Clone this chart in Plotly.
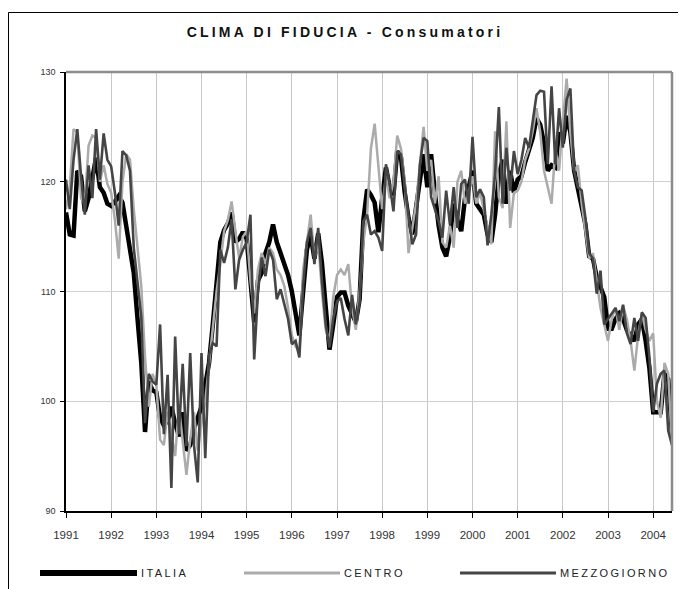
import plotly.graph_objects as go

# ---------------- data (monthly, Jan 1991 - Jun 2004) ----------------
year_labels = [str(y) for y in range(1991, 2005)]
month_index = list(range(162))

italia = [
    117.2, 115.2, 115.1, 121.0, 120.5, 117.3, 118.5, 120.3, 122.2, 119.5, 119.0, 118.0,  # 1991
    117.8, 118.2, 118.7, 118.1, 116.0, 113.8, 111.7, 107.5, 103.5, 97.2, 101.8, 101.0,   # 1992
    100.8, 98.5, 97.8, 98.2, 99.5, 98.0, 96.8, 99.0, 95.5, 96.0, 97.5, 98.5,             # 1993
    99.5, 101.5, 103.5, 107.0, 111.0, 114.5, 115.6, 116.2, 117.2, 114.5, 114.8, 115.4,   # 1994
    114.8, 110.5, 107.2, 111.0, 111.7, 113.5, 114.5, 116.1, 114.5, 113.5, 112.6, 111.5,  # 1995
    110.0, 108.0, 106.0, 110.0, 113.8, 115.1, 113.0, 115.3, 112.6, 108.6, 104.7, 107.0,  # 1996
    109.5, 109.9, 109.9, 108.7, 108.0, 107.2, 109.3, 116.5, 119.3, 118.8, 118.1, 115.4,  # 1997
    118.5, 121.3, 119.5, 118.8, 122.8, 122.2, 119.0, 116.7, 115.2, 117.9, 120.5, 122.5,  # 1998
    119.5, 122.5, 119.0, 116.0, 114.0, 113.2, 115.0, 118.0, 116.5, 115.5, 118.5, 119.5,  # 1999
    121.0, 118.0, 117.5, 117.0, 115.2, 114.5, 117.0, 120.5, 122.0, 118.0, 121.0, 119.0,  # 2000
    120.2, 120.5, 121.8, 122.8, 124.0, 125.8, 125.2, 123.5, 121.0, 121.5, 121.3, 124.5,  # 2001
    123.5, 126.0, 124.5, 121.0, 119.5, 118.0, 116.1, 113.2, 113.0, 111.3, 110.5, 109.5,  # 2002
    106.6, 106.6, 107.5, 108.0, 107.5, 106.5, 106.0, 105.5, 107.0, 107.5, 105.5, 103.0,  # 2003
    99.0, 99.0, 99.0, 102.5, 102.0, 97.0,                                                # 2004
]

centro = [
    117.5, 119.5, 124.8, 124.5, 118.5, 118.0, 123.3, 124.2, 124.0, 120.0, 121.5, 119.8,  # 1991
    119.0, 116.5, 113.0, 120.0, 122.5, 122.0, 117.5, 114.0, 110.5, 104.0, 99.5, 102.5,   # 1992
    101.5, 96.5, 96.0, 99.0, 97.0, 95.0, 99.5, 96.5, 93.3, 96.5, 99.0, 95.5,             # 1993
    98.0, 100.0, 103.5, 106.5, 110.0, 112.5, 115.5, 116.5, 118.2, 115.5, 113.0, 115.0,   # 1994
    115.5, 111.0, 108.0, 112.0, 113.5, 112.5, 114.0, 113.5, 112.0, 111.5, 110.5, 108.5,  # 1995
    106.0, 105.0, 104.5, 112.0, 114.5, 117.0, 113.0, 114.5, 110.0, 106.5, 105.5, 109.5,  # 1996
    111.5, 112.0, 111.5, 112.5, 108.5, 106.5, 110.0, 114.5, 117.0, 123.0, 125.3, 121.0,  # 1997
    117.5, 120.5, 118.5, 120.0, 124.2, 123.0, 120.0, 113.5, 116.0, 118.0, 121.5, 125.0,  # 1998
    121.0, 122.0, 118.0, 120.5, 114.5, 114.0, 116.0, 114.0, 120.0, 121.0, 118.0, 119.0,  # 1999
    120.5, 118.0, 119.0, 117.4, 116.0, 114.3, 124.6, 118.6, 117.6, 125.5, 115.8, 119.0,  # 2000
    119.2, 120.0, 122.0, 123.0, 124.6, 126.7, 124.5, 121.0, 119.5, 118.0, 123.0, 121.0,  # 2001
    125.5, 129.4, 124.5, 121.0, 121.5, 118.0, 115.5, 113.0, 113.5, 111.0, 108.5, 107.0,  # 2002
    105.5, 107.5, 108.5, 106.5, 108.7, 107.5, 105.5, 102.8, 106.0, 108.0, 106.5, 105.5,  # 2003
    106.2, 100.0, 98.5, 103.5, 102.5, 96.0,                                              # 2004
]

mezzogiorno = [
    120.2, 117.5, 122.0, 124.8, 120.5, 117.0, 121.5, 118.5, 124.8, 120.2, 124.4, 122.0,  # 1991
    121.4, 119.0, 116.0, 122.8, 122.4, 121.0, 114.0, 110.5, 107.7, 98.0, 102.5, 101.8,   # 1992
    101.5, 107.0, 97.0, 102.4, 92.1, 105.9, 97.0, 103.4, 95.9, 104.4, 96.0, 92.6,        # 1993
    104.4, 94.8, 104.2, 105.3, 105.0, 113.8, 112.6, 114.0, 116.6, 110.2, 112.9, 113.8,   # 1994
    114.5, 117.0, 103.8, 110.0, 113.1, 111.4, 113.8, 112.9, 109.3, 110.2, 108.7, 107.5,  # 1995
    105.2, 105.5, 104.0, 110.5, 114.5, 115.8, 112.5, 115.8, 110.9, 107.0, 104.9, 107.5,  # 1996
    109.1, 109.4, 107.5, 106.0, 109.7, 107.0, 109.0, 116.4, 117.0, 115.2, 115.5, 114.9,  # 1997
    113.7, 121.6, 119.8, 117.3, 122.8, 122.5, 119.5, 116.7, 114.3, 115.2, 121.5, 124.0,  # 1998
    123.7, 118.6, 117.5, 116.4, 114.9, 119.2, 116.1, 119.5, 115.8, 119.8, 120.2, 118.0,  # 1999
    124.1, 118.6, 119.3, 118.6, 114.2, 117.0, 120.7, 126.8, 118.0, 123.1, 119.2, 122.8,  # 2000
    120.7, 122.0, 124.0, 123.1, 125.5, 127.9, 128.3, 128.2, 121.6, 128.7, 121.6, 126.7,  # 2001
    123.1, 127.5, 128.5, 121.0, 119.5, 119.2, 116.7, 113.5, 113.0, 109.8, 111.9, 107.0,  # 2002
    107.5, 108.0, 108.5, 107.3, 108.8, 106.2, 105.2, 107.6, 105.5, 108.1, 107.6, 104.0,  # 2003
    99.0, 101.6, 102.5, 102.8, 97.3, 96.0,                                               # 2004
]

y_ticks = [90, 100, 110, 120, 130]
series_names = ["ITALIA", "CENTRO", "MEZZOGIORNO"]

assert len(italia) == len(centro) == len(mezzogiorno) == len(month_index)

# ---------------- figure ----------------
# the page body adds an 8px margin, so the figure is sized to fit the window
OFF = 8
W, H = 678, 581
L, R, T, B = 58, 14, 64, 78
PW, PH = W - L - R, H - T - B
FONT = "Liberation Sans, Arial, sans-serif"


def px_x(page_x):
    return (page_x - OFF - L) / PW


def px_y(page_y):
    return (H - B - (page_y - OFF)) / PH


fig = go.Figure()
fig.add_trace(go.Scatter(x=month_index, y=italia, mode="lines", name=series_names[0],
                         line=dict(color="#000000", width=4.5), showlegend=False))
fig.add_trace(go.Scatter(x=month_index, y=centro, mode="lines", name=series_names[1],
                         line=dict(color="#ababab", width=2.5), showlegend=False))
fig.add_trace(go.Scatter(x=month_index, y=mezzogiorno, mode="lines", name=series_names[2],
                         line=dict(color="#454545", width=2.6), showlegend=False))

fig.update_layout(
    width=W, height=H,
    margin=dict(l=L, r=R, t=T, b=B, pad=0),
    paper_bgcolor="white", plot_bgcolor="white",
    font=dict(family=FONT, color="#222222"),
    title=dict(text='<span style="letter-spacing:3.2px">CLIMA DI FIDUCIA - Consumatori</span>',
               x=px_x(345), xref="paper", xanchor="center", y=1 - (32 - OFF) / H, yanchor="middle",
               font=dict(family=FONT, size=14, color="#111111", weight="bold")),
)

fig.update_xaxes(
    range=[0, 161], tickmode="array",
    tickvals=[i * 12 for i in range(len(year_labels))], ticktext=year_labels,
    showgrid=True, gridcolor="#c8c8c8", gridwidth=1,
    showline=True, linecolor="#000000", linewidth=1.5,
    ticks="outside", ticklen=5, tickcolor="#000000", tickwidth=1,
    tickfont=dict(family=FONT, size=11.5, color="#333333"),
    ticklabelstandoff=7, zeroline=False, fixedrange=True,
)
fig.update_yaxes(
    range=[90, 130], tickmode="array", tickvals=y_ticks,
    ticktext=[str(v) for v in y_ticks],
    showgrid=True, gridcolor="#d0d0d0", gridwidth=1,
    showline=True, linecolor="#000000", linewidth=1.5,
    ticks="outside", ticklen=4, tickcolor="#000000", tickwidth=1,
    tickfont=dict(family=FONT, size=9, color="#333333"),
    ticklabelstandoff=3, zeroline=False, fixedrange=True,
)

shapes = []
# gray top / right border of plot area
shapes.append(dict(type="line", xref="paper", yref="paper", x0=0, x1=1, y0=1, y1=1,
                   line=dict(color="#8c8c8c", width=2.5)))
shapes.append(dict(type="line", xref="paper", yref="paper", x0=1, x1=1, y0=0, y1=1,
                   line=dict(color="#8c8c8c", width=2.5)))
# outer chart frame
shapes.append(dict(type="rect", xref="paper", yref="paper",
                   x0=px_x(8.5), x1=px_x(720), y0=px_y(12.5), y1=px_y(640),
                   line=dict(color="#000000", width=1), fillcolor="rgba(0,0,0,0)"))

# manual legend (long sample lines as in the original)
leg_y = 573
legend_items = [
    (series_names[0], 40, 137, "#000000", 6),
    (series_names[1], 244, 340, "#ababab", 3),
    (series_names[2], 460, 556, "#454545", 3),
]
annotations = []
for name, x0, x1, col, wdt in legend_items:
    shapes.append(dict(type="line", xref="paper", yref="paper",
                       x0=px_x(x0), x1=px_x(x1), y0=px_y(leg_y), y1=px_y(leg_y),
                       line=dict(color=col, width=wdt)))
    annotations.append(dict(xref="paper", yref="paper", x=px_x(x1 + 2), y=px_y(leg_y),
                            xanchor="left", yanchor="middle", showarrow=False,
                            text=f'<span style="letter-spacing:2.4px">{name}</span>',
                            font=dict(family=FONT, size=11, color="#222222")))

fig.update_layout(shapes=shapes, annotations=annotations)

fig.write_html("out.html")
